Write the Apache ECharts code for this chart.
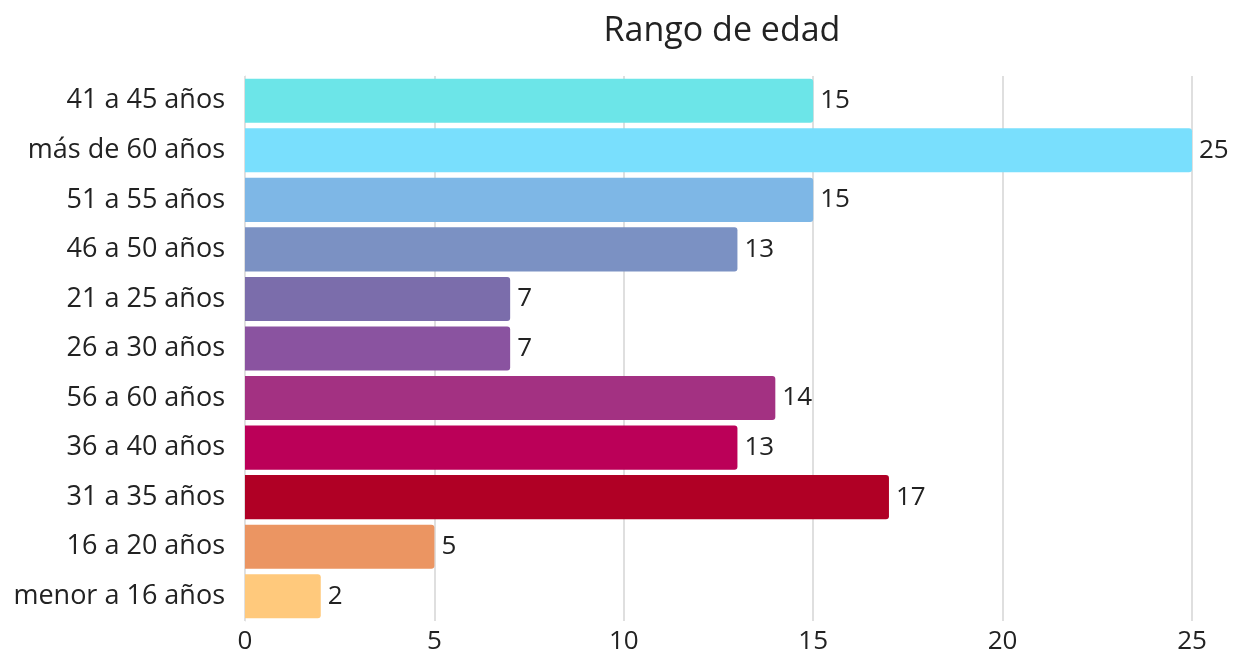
<!DOCTYPE html>
<html>
<head>
<meta charset="utf-8">
<script src="https://cdn.jsdelivr.net/npm/echarts@6/dist/echarts.min.js"></script>
<style>
html,body{margin:0;padding:0;background:#fff;}
#c{width:1236px;height:658px;}
</style>
</head>
<body>
<div id="c"></div>
<script>
const titleText = "Rango de edad";
const categories = ["41 a 45 años","más de 60 años","51 a 55 años","46 a 50 años","21 a 25 años","26 a 30 años","56 a 60 años","36 a 40 años","31 a 35 años","16 a 20 años","menor a 16 años"];
const values = [15,25,15,13,7,7,14,13,17,5,2];
const barColors = ["#6ce5e8","#79dffd","#7eb7e6","#7b91c3","#7b6dab","#8a53a0","#a33182","#bb0058","#b00025","#eb9562","#ffc97c"];
const xTicks = [0,5,10,15,20,25];

const chart = echarts.init(document.getElementById('c'));
const font = "'Open Sans', 'Noto Sans', sans-serif";
chart.setOption({
  backgroundColor:'#fff',
  animation:false,
  title:{
    text:titleText,
    left:717, top:9, textAlign:'center',
    textStyle:{fontFamily:font,fontSize:34,fontWeight:'normal',color:'#222'}
  },
  grid:{left:245,right:44,top:76,bottom:37,containLabel:false},
  xAxis:{
    type:'value', min:xTicks[0], max:xTicks[xTicks.length-1], interval:5,
    axisLine:{show:false}, axisTick:{show:false},
    splitLine:{show:true,lineStyle:{color:'#d4d4d4',width:1.5}},
    axisLabel:{fontFamily:font,fontSize:26,color:'#222',margin:8}
  },
  yAxis:{
    type:'category', data:categories, inverse:true,
    axisLine:{show:true,lineStyle:{color:'#e2e2e2',width:1}}, axisTick:{show:false},
    axisLabel:{fontFamily:font,fontSize:27,color:'#222',margin:20}
  },
  series:[{
    type:'bar',
    data:values.map((v,i)=>({value:v,itemStyle:{color:barColors[i]}})),
    barCategoryGap:'11%',
    itemStyle:{borderRadius:[0,3,3,0]},
    label:{show:true,position:'right',distance:7,fontFamily:font,fontSize:26,color:'#222'}
  }]
});
</script>
</body>
</html>
